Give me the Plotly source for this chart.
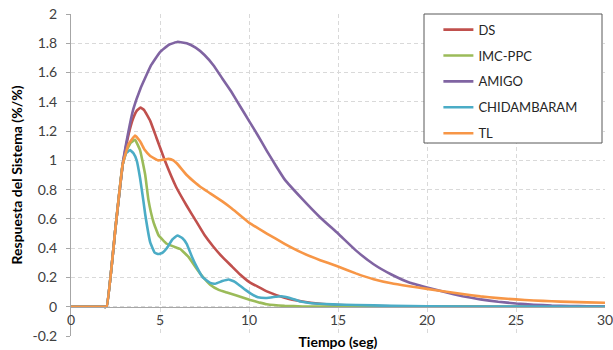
import plotly.graph_objects as go

# ---- data ----
t_ds = [0, 1.8, 2, 2.5, 2.9, 3.1, 3.3, 3.5, 3.7, 3.9, 4.1, 4.45, 4.8, 5.3, 5.9, 6.5, 7, 7.5, 8, 8.5, 9, 9.5, 10, 11, 12, 13, 14, 15, 16, 18, 20, 25, 30]
ds = [0, 0, 0, 0.54, 0.97, 1.1, 1.21, 1.29, 1.34, 1.36, 1.345, 1.27, 1.155, 0.99, 0.82, 0.69, 0.59, 0.49, 0.41, 0.34, 0.28, 0.22, 0.17, 0.105, 0.062, 0.036, 0.02, 0.012, 0.007, 0.003, 0.001, 0.0, 0.0]

t_imc = [0, 1.8, 2, 2.5, 2.9, 3.1, 3.35, 3.6, 3.88, 4.17, 4.35, 4.63, 4.91, 5.38, 5.8, 6.13, 6.6, 7, 7.3, 7.82, 8.3, 8.76, 9.3, 10.07, 10.6, 11, 12, 13, 15, 20, 30]
imc = [0, 0, 0, 0.54, 0.97, 1.06, 1.12, 1.14, 1.07, 0.9, 0.73, 0.58, 0.49, 0.43, 0.41, 0.395, 0.34, 0.27, 0.22, 0.15, 0.115, 0.097, 0.077, 0.046, 0.028, 0.017, 0.006, 0.002, 0.0, 0.0, 0.0]

t_amigo = [0, 1.8, 2, 2.5, 2.9, 3.2, 3.5, 3.9, 4.5, 5, 5.5, 6, 6.5, 7, 7.5, 8, 8.5, 9, 9.5, 10, 10.5, 11, 11.5, 12, 13, 14, 15, 16, 17, 18, 19, 20, 21, 22, 23, 24, 25, 26, 27, 28, 29, 30]
amigo = [0, 0, 0, 0.54, 0.97, 1.18, 1.35, 1.49, 1.65, 1.74, 1.79, 1.81, 1.8, 1.77, 1.72, 1.65, 1.56, 1.47, 1.37, 1.27, 1.17, 1.065, 0.965, 0.87, 0.735, 0.61, 0.5, 0.385, 0.29, 0.22, 0.165, 0.131, 0.1, 0.072, 0.05, 0.034, 0.022, 0.014, 0.008, 0.005, 0.003, 0.002]

t_chid = [0, 1.8, 2, 2.5, 2.9, 3.1, 3.32, 3.5, 3.69, 3.88, 4.07, 4.17, 4.45, 4.7, 4.91, 5.15, 5.38, 5.7, 5.98, 6.25, 6.5, 6.8, 7.07, 7.4, 7.82, 8.1, 8.5, 8.85, 9.2, 9.5, 9.8, 10.1, 10.5, 11, 11.5, 11.8, 12.3, 12.9, 13.5, 14.7, 16, 18, 20, 25, 30]
chid = [0, 0, 0, 0.54, 0.97, 1.05, 1.07, 1.05, 1.0, 0.88, 0.72, 0.63, 0.44, 0.37, 0.36, 0.37, 0.4, 0.46, 0.487, 0.47, 0.43, 0.34, 0.27, 0.2, 0.163, 0.157, 0.175, 0.186, 0.17, 0.143, 0.115, 0.09, 0.065, 0.06, 0.068, 0.072, 0.06, 0.035, 0.024, 0.016, 0.012, 0.006, 0.003, 0.001, 0.0]

t_tl = [0, 1.8, 2, 2.5, 2.9, 3.23, 3.6, 3.88, 4.15, 4.45, 4.9, 5.2, 5.48, 5.75, 5.94, 6.5, 7, 7.26, 7.82, 8.5, 9, 10, 11, 12, 13, 14, 15, 16, 17, 18, 19, 20, 21, 22, 23, 24, 25, 26, 27, 28, 29, 30]
tl = [0, 0, 0, 0.54, 0.97, 1.11, 1.17, 1.13, 1.07, 1.03, 1.0, 1.005, 1.01, 1.0, 0.98, 0.9, 0.845, 0.82, 0.775, 0.72, 0.675, 0.575, 0.5, 0.43, 0.368, 0.318, 0.275, 0.228, 0.188, 0.16, 0.14, 0.122, 0.104, 0.087, 0.071, 0.059, 0.05, 0.043, 0.037, 0.033, 0.03, 0.027]

series = [
    ("DS", t_ds, ds, "#C0504D"),
    ("IMC-PPC", t_imc, imc, "#9BBB59"),
    ("AMIGO", t_amigo, amigo, "#8064A2"),
    ("CHIDAMBARAM", t_chid, chid, "#4BACC6"),
    ("TL", t_tl, tl, "#F79646"),
]

x_ticks = [0, 5, 10, 15, 20, 25, 30]
y_ticks = [-0.2, 0, 0.2, 0.4, 0.6, 0.8, 1, 1.2, 1.4, 1.6, 1.8, 2]
y_labels = ["-0.2", "0", "0.2", "0.4", "0.6", "0.8", "1", "1.2", "1.4", "1.6", "1.8", "2"]

FONT = "Lato"

fig = go.Figure()
for name, tx, vy, col in series:
    fig.add_trace(go.Scatter(
        x=tx, y=vy, mode="lines", name=name, legendgroup=name,
        line=dict(color=col, width=2.6, shape="spline", smoothing=0.3),
    ))

grid = "#D9D9D9"
fig.update_layout(
    width=613, height=350,
    margin=dict(l=71, r=8, t=14, b=14),
    paper_bgcolor="white", plot_bgcolor="white",
    font=dict(family=FONT, size=14, color="#404040"),
    showlegend=True,
    legend=dict(
        x=0.688, y=0.998, xanchor="left", yanchor="top",
        bgcolor="rgba(0,0,0,0)", borderwidth=0,
        font=dict(family=FONT, size=13, color="#262626"),
        tracegroupgap=6,
    ),
    xaxis=dict(
        range=[0, 30], tickvals=x_ticks, ticktext=[str(v) for v in x_ticks],
        showgrid=True, gridcolor=grid, griddash="4px,3px", gridwidth=1,
        showline=True, linecolor="#A6A6A6", linewidth=1,
        anchor="free", position=0.2 / 2.2, ticks="", zeroline=False,
        automargin=False, ticklabeloverflow="allow",
        tickfont=dict(family=FONT, size=14, color="#404040"),
        title=dict(text="<b>Tiempo (seg)</b>", standoff=10,
                   font=dict(family=FONT, size=14, color="#000000")),
    ),
    yaxis=dict(
        range=[-0.2, 2], tickvals=y_ticks, ticktext=y_labels,
        showgrid=True, gridcolor=grid, griddash="4px,3px", gridwidth=1,
        showline=True, linecolor="#A6A6A6", linewidth=1,
        ticks="outside", ticklen=4, tickcolor="#A6A6A6",
        zeroline=False, automargin=False, ticklabelstandoff=6,
        tickfont=dict(family=FONT, size=14, color="#404040"),
        title=dict(text="<b>Respuesta del Sistema (%/%)</b>", standoff=6,
                   font=dict(family=FONT, size=14, color="#000000")),
    ),
    shapes=[dict(
        type="rect", xref="paper", yref="paper",
        x0=(424 - 71) / 534, x1=(602 - 71) / 534,
        y0=1 - (143 - 14) / 322, y1=1.0,
        line=dict(color="#595959", width=1), fillcolor="white", layer="above",
    )],
)

fig.write_html("out.html", config={"displayModeBar": False},
               post_script="document.body.style.margin='0';")
